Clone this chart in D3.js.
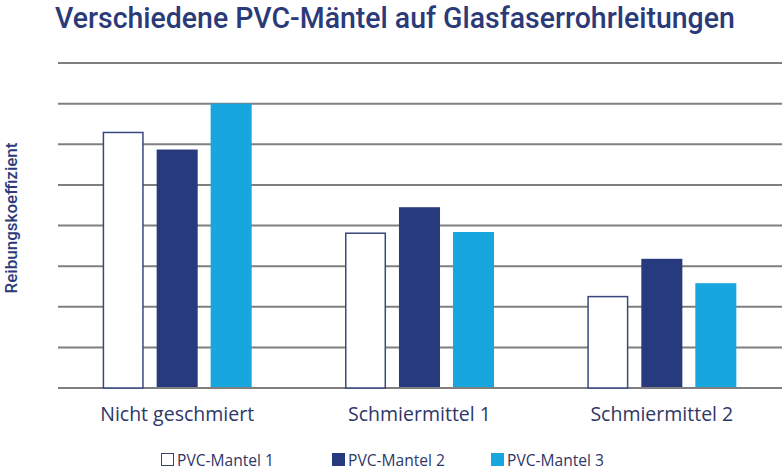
<!DOCTYPE html>
<html>
<head>
<meta charset="utf-8">
<script src="https://cdn.jsdelivr.net/npm/d3@7"></script>
<style>
  html, body { margin: 0; padding: 0; background: #fff; }
  svg { display: block; }
  text { font-family: "Open Sans", "Noto Sans", sans-serif; }
  text.rb { font-family: Roboto, "Liberation Sans", sans-serif; }
</style>
</head>
<body>
<svg id="chart" width="782" height="471"></svg>
<script>
const title = "Verschiedene PVC-Mäntel auf Glasfaserrohrleitungen";
const yLabel = "Reibungskoeffizient";
const categories = ["Nicht geschmiert", "Schmiermittel 1", "Schmiermittel 2"];
const seriesNames = ["PVC-Mantel 1", "PVC-Mantel 2", "PVC-Mantel 3"];
const mantel1 = [6.29, 3.81, 2.25];
const mantel2 = [5.87, 4.45, 3.18];
const mantel3 = [7.0, 3.84, 2.58];
const yTicks = [0, 1, 2, 3, 4, 5, 6, 7, 8];

const seriesValues = [mantel1, mantel2, mantel3];
const fills = ["#ffffff", "#283a7e", "#17a6de"];
const strokes = ["#3a4880", "none", "none"];
const navy = "#2b3a78";
const textCol = "#2e3766";

const svg = d3.select("#chart");
const x0 = d3.scaleBand().domain(categories).range([56, 783]).paddingInner(0).paddingOuter(0);
const groupW = 149;
const x1 = d3.scaleBand().domain(seriesNames).range([0, groupW]).paddingInner(0.24).paddingOuter(0);
const y = d3.scaleLinear().domain([0, 8]).range([388, 63]);

// fit a text horizontally into a target width by scaling its glyphs
function fitX(sel, target) {
  sel.each(function() {
    const w = this.getComputedTextLength();
    const s = Math.min(1, target / w);
    const t = d3.select(this).attr("data-t") || "";
    d3.select(this).attr("transform", `${t} scale(${s},1)`);
  });
}

// gridlines
svg.append("g").selectAll("line").data(yTicks).join("line")
  .attr("x1", 58).attr("x2", 782)
  .attr("y1", d => y(d)).attr("y2", d => y(d))
  .attr("stroke", "#7f7f7f").attr("stroke-width", 2);

// bars
const groups = svg.append("g").selectAll("g").data(categories).join("g")
  .attr("transform", c => `translate(${x0(c) + (x0.bandwidth() - groupW) / 2},0)`);
groups.selectAll("rect").data((c, i) => seriesNames.map((s, j) => ({s, j, v: seriesValues[j][i]})))
  .join("rect")
  .attr("x", d => x1(d.s) + (d.j === 0 ? 0.75 : 0))
  .attr("width", d => x1.bandwidth() - (d.j === 0 ? 1.5 : 0))
  .attr("y", d => y(d.v))
  .attr("height", d => y(0) - y(d.v) - (d.j === 0 ? 0 : 1))
  .attr("fill", d => fills[d.j])
  .attr("stroke", d => strokes[d.j])
  .attr("stroke-width", 1.5);

// category labels
svg.append("g").selectAll("text").data(categories).join("text")
  .attr("x", c => x0(c) + x0.bandwidth() / 2)
  .attr("y", 421)
  .attr("text-anchor", "middle")
  .attr("font-size", 19.5)
  .attr("fill", textCol)
  .text(c => c);

// title
const titleText = svg.append("text")
  .attr("class", "rb")
  .attr("data-t", "translate(55,28)")
  .attr("x", 0).attr("y", 0)
  .attr("font-size", 29)
  .attr("font-weight", 500)
  .attr("fill", navy)
  .text(title);
fitX(titleText, 680);

// y label
const yl = svg.append("g").attr("transform", "translate(16.5,218) rotate(-90)");
const ylText = yl.append("text")
  .attr("class", "rb")
  .attr("text-anchor", "middle")
  .attr("font-size", 17)
  .attr("font-weight", 500)
  .attr("fill", navy)
  .text(yLabel);
fitX(ylText, 176);

// legend
const legendX = [161, 332, 491];
const leg = svg.append("g").selectAll("g").data(seriesNames).join("g")
  .attr("transform", (d, i) => `translate(${legendX[i]},453)`);
leg.append("rect")
  .attr("x", (d, i) => i === 0 ? 0.5 : 0)
  .attr("y", (d, i) => i === 0 ? 0.5 : 0)
  .attr("width", (d, i) => i === 0 ? 12 : 13)
  .attr("height", (d, i) => i === 0 ? 12 : 13)
  .attr("fill", (d, i) => fills[i])
  .attr("stroke", (d, i) => i === 0 ? "#3a4466" : "none")
  .attr("stroke-width", 1);
const legText = leg.append("text")
  .attr("data-t", "translate(16,12.5)")
  .attr("font-size", 16.5)
  .attr("fill", textCol)
  .text(d => d);
fitX(legText, 97);
</script>
</body>
</html>
